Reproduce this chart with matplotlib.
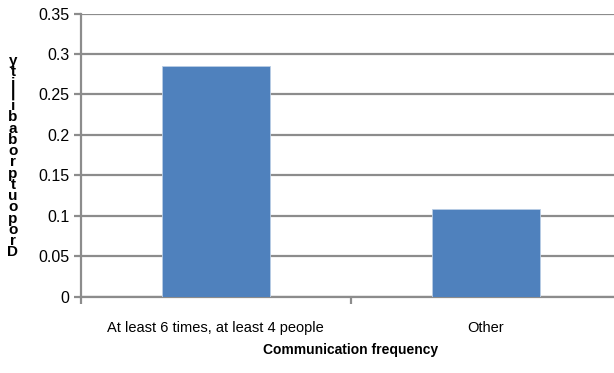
import matplotlib
matplotlib.use("Agg")
import matplotlib.pyplot as plt

categories = ["At least 6 times, at least 4 people", "Other"]
values = [0.285, 0.109]
yticks = [0, 0.05, 0.1, 0.15, 0.2, 0.25, 0.3, 0.35]
ytick_labels = ["0", "0.05", "0.1", "0.15", "0.2", "0.25", "0.3", "0.35"]
xlabel = "Communication frequency"
ylabel = "Dropout probability"

plt.rcParams["font.family"] = ["Liberation Sans", "DejaVu Sans"]
grey = "#8c8c8c"

fig = plt.figure(figsize=(6.14, 3.73), dpi=100)
ax = fig.add_axes([0.1314, 0.2038, 0.88, 0.76])

x = list(range(len(categories)))
ax.bar(x, values, width=0.4, color="#4f81bd", edgecolor="#b9cde5", linewidth=0.6, zorder=3)

ax.set_xlim(-0.5, len(categories) - 0.5)
ax.set_ylim(0, 0.35)
ax.set_yticks(yticks)
ax.set_yticklabels(ytick_labels, fontsize=11.5)
ax.yaxis.grid(True, color=grey, linewidth=1.6, zorder=0)

# category labels centered, ticks on the boundaries between categories
ax.set_xticks([i - 0.5 for i in range(len(categories) + 1)])
ax.set_xticklabels([])
ax.set_xticks(x, minor=True)
ax.set_xticklabels(categories, minor=True, fontsize=10.5)
ax.tick_params(axis="x", which="minor", length=0, pad=17)
ax.tick_params(axis="x", which="major", length=5, width=1.6, color=grey)
ax.tick_params(axis="y", length=5, width=1.6, color=grey, pad=3)

for side in ["top", "right"]:
    ax.spines[side].set_visible(False)
for side in ["left", "bottom"]:
    ax.spines[side].set_color(grey)
    ax.spines[side].set_linewidth(1.6)

ax.set_xlabel(xlabel, fontsize=10, fontweight="bold", labelpad=6)

# stacked vertical axis title, letters upright
fig.text(0.021, 0.58, "\n".join(reversed(ylabel.replace(" ", ""))),
         ha="center", va="center", fontsize=11, fontweight="bold",
         linespacing=0.75)

fig.savefig("out.png", dpi=100)
